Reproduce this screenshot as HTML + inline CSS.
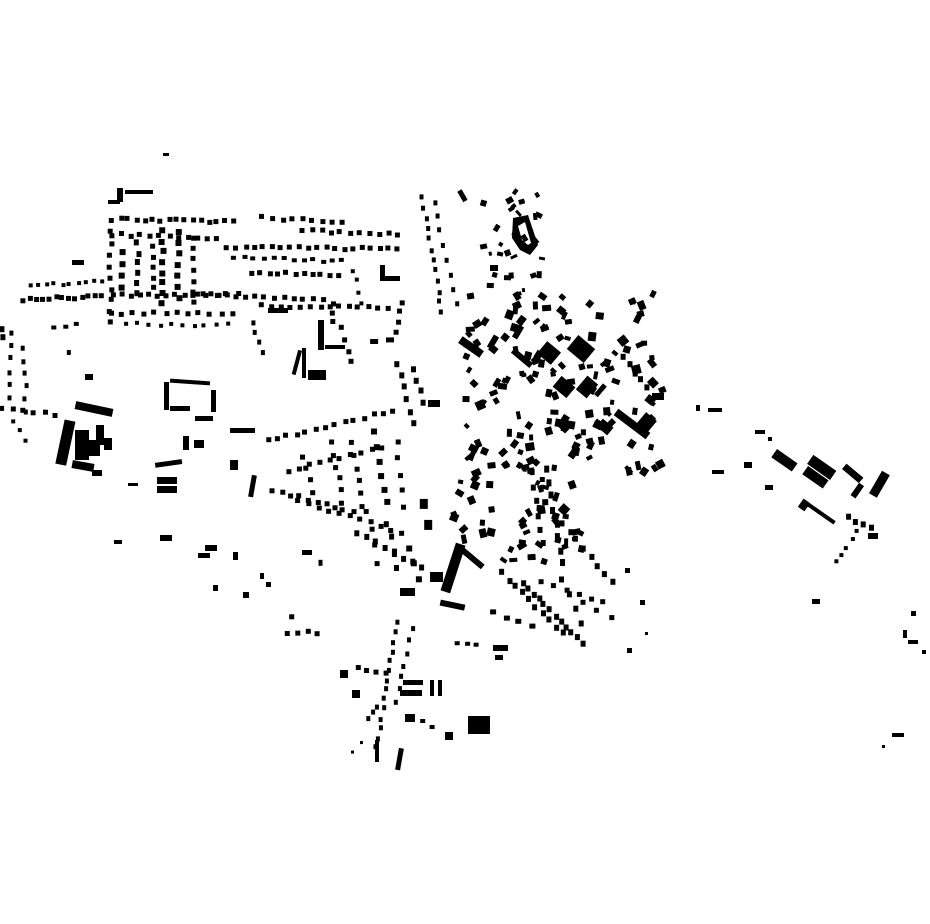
<!DOCTYPE html>
<html><head><meta charset="utf-8"><style>html,body{margin:0;padding:0;background:#fff}svg{display:block}</style></head>
<body>
<svg id="m" width="930" height="924" viewBox="0 0 930 924" xmlns="http://www.w3.org/2000/svg">
<g fill="#000">
<rect x="163" y="153" width="6" height="3"/>
<rect x="117" y="188" width="6" height="14"/>
<rect x="108" y="200" width="12" height="4"/>
<rect x="125" y="190" width="28" height="4"/>
<rect x="72" y="260" width="12" height="5"/>
<rect x="380" y="265" width="5" height="14"/>
<rect x="380" y="276" width="20" height="5"/>
<rect x="268" y="308" width="20" height="5"/>
<rect x="308" y="370" width="18" height="10"/>
<rect x="318" y="320" width="6" height="30"/>
<rect x="295" y="350" width="4" height="25" transform="rotate(15 297 362)"/>
<rect x="302" y="348" width="4" height="30"/>
<rect x="325" y="345" width="20" height="4"/>
<!-- outlined block -->
<rect x="164" y="382" width="5" height="28"/>
<rect x="170" y="380" width="40" height="4" transform="rotate(4 190 382)"/>
<rect x="170" y="406" width="20" height="5"/>
<rect x="195" y="416" width="18" height="5"/>
<rect x="211" y="390" width="5" height="22"/>
<!-- west big -->
<rect x="60" y="420" width="11" height="45" transform="rotate(12 65 442)"/>
<rect x="75" y="405" width="38" height="8" transform="rotate(12 94 409)"/>
<rect x="75" y="430" width="14" height="30"/>
<rect x="88" y="440" width="12" height="16"/>
<rect x="72" y="462" width="22" height="8" transform="rotate(10 83 466)"/>
<rect x="96" y="425" width="8" height="20"/>
<rect x="104" y="438" width="8" height="12"/>
<rect x="92" y="470" width="10" height="6"/>
<rect x="85" y="374" width="8" height="6"/>
<rect x="230" y="428" width="25" height="5"/>
<rect x="250" y="475" width="5" height="22" transform="rotate(10 252 486)"/>
<rect x="155" y="461" width="27" height="5" transform="rotate(-8 168 463)"/>
<rect x="157" y="477" width="20" height="7"/>
<rect x="157" y="486" width="20" height="7"/>
<rect x="183" y="436" width="6" height="14"/>
<rect x="194" y="440" width="10" height="8"/>
<rect x="230" y="460" width="8" height="10"/>
<rect x="160" y="535" width="12" height="6"/>
<rect x="114" y="540" width="8" height="4"/>
<rect x="128" y="483" width="10" height="3"/>
<rect x="205" y="545" width="12" height="6"/>
<rect x="198" y="553" width="12" height="5"/>
<rect x="302" y="550" width="10" height="5"/>
<rect x="233" y="552" width="5" height="8"/>
<rect x="213" y="585" width="5" height="6"/>
<rect x="243" y="592" width="6" height="6"/>
<rect x="260" y="573" width="4" height="6"/>
<rect x="266" y="582" width="5" height="5"/>
<!-- south center big -->
<rect x="448" y="543" width="10" height="50" transform="rotate(18 453 568)"/>
<rect x="458" y="555" width="28" height="6" transform="rotate(40 472 558)"/>
<rect x="430" y="572" width="13" height="10"/>
<rect x="400" y="588" width="15" height="8"/>
<rect x="440" y="602" width="25" height="6" transform="rotate(12 452 605)"/>
<rect x="468" y="716" width="22" height="18"/>
<rect x="445" y="732" width="8" height="8"/>
<rect x="400" y="690" width="22" height="6"/>
<rect x="403" y="680" width="20" height="5"/>
<rect x="430" y="680" width="4" height="16"/>
<rect x="438" y="680" width="4" height="16"/>
<rect x="375" y="740" width="4" height="22"/>
<rect x="397" y="748" width="5" height="22" transform="rotate(10 399 759)"/>
<rect x="340" y="670" width="8" height="8"/>
<rect x="352" y="690" width="8" height="8"/>
<rect x="405" y="714" width="10" height="8"/>
<rect x="493" y="645" width="15" height="6"/>
<rect x="495" y="655" width="8" height="5"/>
<!-- NE -->
<path d="M513 218 L528 215 L538 245 L530 255 L520 250 L512 238 Z M518 226 L522 240 L528 245 L531 243 L525 222 Z" fill-rule="evenodd"/>
<rect x="460" y="190" width="5" height="12" transform="rotate(-30 462 196)"/>
<rect x="490" y="265" width="8" height="6"/>
<!-- central east dense big -->
<rect x="570" y="340" width="22" height="18" transform="rotate(40 581 349)"/>
<rect x="540" y="345" width="18" height="16" transform="rotate(40 549 353)"/>
<rect x="555" y="380" width="18" height="14" transform="rotate(40 564 387)"/>
<rect x="580" y="378" width="14" height="18" transform="rotate(40 587 387)"/>
<rect x="458" y="343" width="26" height="8" transform="rotate(35 471 347)"/>
<rect x="510" y="355" width="24" height="6" transform="rotate(40 522 358)"/>
<rect x="612" y="420" width="40" height="8" transform="rotate(37 632 424)"/>
<rect x="640" y="415" width="14" height="14" transform="rotate(40 647 422)"/>
<rect x="598" y="422" width="14" height="10" transform="rotate(40 605 427)"/>
<rect x="555" y="420" width="20" height="8" transform="rotate(10 565 424)"/>
<rect x="652" y="393" width="12" height="7"/>
<rect x="428" y="400" width="12" height="7"/>
<rect x="515" y="325" width="6" height="14" transform="rotate(30 518 332)"/>
<rect x="490" y="335" width="6" height="14" transform="rotate(30 493 342)"/>
<rect x="598" y="383" width="5" height="14" transform="rotate(40 600 390)"/>
<!-- east -->
<rect x="772" y="455" width="25" height="10" transform="rotate(35 784 460)"/>
<rect x="808" y="462" width="28" height="11" transform="rotate(35 822 467)"/>
<rect x="803" y="472" width="25" height="10" transform="rotate(35 815 477)"/>
<rect x="866" y="480" width="26" height="9" transform="rotate(-60 879 484)"/>
<rect x="842" y="470" width="22" height="7" transform="rotate(40 853 473)"/>
<rect x="850" y="488" width="15" height="6" transform="rotate(-55 857 491)"/>
<rect x="800" y="510" width="38" height="4" transform="rotate(35 819 512)"/>
<rect x="800" y="500" width="8" height="10" transform="rotate(35 804 505)"/>
<rect x="744" y="462" width="8" height="6"/>
<rect x="765" y="485" width="8" height="5"/>
<rect x="708" y="408" width="14" height="4"/>
<rect x="696" y="405" width="4" height="6"/>
<rect x="712" y="470" width="12" height="4"/>
<rect x="755" y="430" width="10" height="4"/>
<rect x="768" y="437" width="4" height="4"/>
<rect x="812" y="599" width="8" height="5"/>
<rect x="868" y="533" width="10" height="6"/>
<rect x="892" y="733" width="12" height="4"/>
<rect x="882" y="745" width="3" height="3"/>
<rect x="903" y="630" width="4" height="8"/>
<rect x="911" y="611" width="5" height="5"/>
<rect x="908" y="640" width="10" height="4"/>
<rect x="922" y="650" width="4" height="4"/>
<rect x="640" y="600" width="5" height="5"/>
<rect x="627" y="648" width="5" height="5"/>
<rect x="645" y="632" width="3" height="3"/>
<rect x="625" y="568" width="5" height="5"/>
</g>
<g id="gen" fill="#000"></g>
</svg>
<script>
(function(){
var g=document.getElementById('gen'),s=12345;
function r(){s=(s*16807)%2147483647;return s/2147483647;}
function R(x,y,w,h,a){var e=document.createElementNS('http://www.w3.org/2000/svg','rect');e.setAttribute('x',x.toFixed(1));e.setAttribute('y',y.toFixed(1));e.setAttribute('width',w);e.setAttribute('height',h);if(a)e.setAttribute('transform','rotate('+a+' '+(x+w/2).toFixed(1)+' '+(y+h/2).toFixed(1)+')');g.appendChild(e);}
function L(x1,y1,x2,y2,n,w,h){for(var i=0;i<n;i++){var t=n>1?i/(n-1):0;R(x1+(x2-x1)*t+(r()-.5)*3,y1+(y2-y1)*t+(r()-.5)*3,w,h);}}
function A(x,y,W,H,n,w1,w2,rot){for(var i=0;i<n;i++){var w=w1+r()*(w2-w1),h=w1+r()*(w2-w1);R(x+r()*W,y+r()*H,Math.round(w),Math.round(h),rot?Math.round(r()*90-45):0);}}
// NW rows
L(110,217,230,219,16,5,5);L(108,232,215,236,12,5,5);L(225,245,395,246,20,5,5);
L(232,256,340,259,12,5,4);L(250,270,335,273,11,5,5);L(20,297,100,294,13,5,5);
L(28,284,100,279,10,4,4);L(110,293,235,292,15,5,5);L(195,291,320,298,14,5,5);
L(260,303,385,306,14,5,5);L(108,311,230,311,12,5,5);L(125,322,225,323,10,4,4);
L(300,228,395,232,11,5,5);L(260,215,340,220,9,5,5);
L(108,230,108,320,9,5,5);L(135,240,135,290,6,5,6);L(160,228,160,300,8,6,6);
L(175,230,175,295,7,6,6);L(190,235,190,300,7,5,5);L(150,245,150,285,5,5,5);
L(120,250,120,285,4,6,6);L(250,320,262,350,4,4,5);L(340,325,350,360,4,5,5);
L(400,300,395,330,4,5,5);L(352,268,360,300,4,4,4);L(330,300,330,320,3,5,5);
// west
L(8,330,8,395,6,4,5);L(22,345,24,410,6,4,5);L(0,405,52,412,6,5,5);L(12,420,25,438,3,4,4);
L(50,325,75,322,3,5,4);L(0,325,0,335,2,5,6);L(68,350,68,350,1,4,5);
// center north of dense
L(395,360,410,420,6,5,6);L(412,365,420,400,4,5,6);L(370,340,385,338,2,8,5);
// central fan rows
L(265,438,390,408,14,5,5);L(285,468,380,445,10,5,5);L(270,487,350,510,10,5,5);
L(295,498,400,530,11,5,5);L(355,530,420,565,8,5,6);L(300,455,310,490,4,5,5);
L(330,440,340,500,6,5,5);L(350,440,360,505,6,5,5);L(370,430,385,500,6,6,6);
L(395,440,400,505,5,5,5);L(365,510,375,560,4,5,5);L(385,520,395,565,4,5,6);
L(320,560,320,560,1,4,6);L(405,545,415,575,3,6,6);L(420,500,425,520,2,8,10);
// dense east area
A(460,290,200,180,140,4,9,true);
A(480,185,60,110,30,3,7,true);
L(420,195,440,310,12,4,5);L(432,200,455,300,8,4,5);
// south center
A(450,460,130,100,50,4,9,true);
L(545,465,560,560,8,5,7);L(530,470,540,540,6,5,6);
L(560,520,610,580,8,5,6);L(520,580,580,640,12,5,6);L(500,570,560,630,10,5,6);
L(490,610,530,625,4,6,5);L(540,580,600,600,6,5,5);L(560,575,580,620,4,5,6);
L(580,600,610,615,3,5,5);
// south strip
L(395,620,375,745,14,4,5);L(410,625,395,700,7,4,5);L(355,665,385,670,4,5,5);
L(350,750,360,740,2,3,3);L(365,715,375,705,3,4,5);L(420,720,430,725,2,5,4);
L(285,630,315,630,4,5,5);L(290,615,300,615,1,5,5);L(455,640,475,643,3,5,4);
// east small
L(835,560,855,530,5,4,4);L(845,515,870,525,4,5,6);L(620,355,645,385,5,5,6);
})();
</script>
</body></html>
